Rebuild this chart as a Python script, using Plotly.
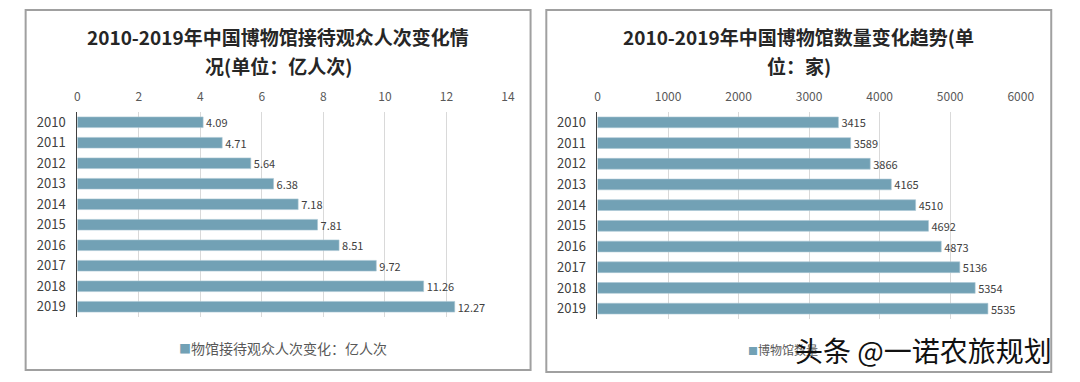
import plotly.graph_objects as go

years = ["2010", "2011", "2012", "2013", "2014", "2015", "2016", "2017", "2018", "2019"]
visitors = [4.09, 4.71, 5.64, 6.38, 7.18, 7.81, 8.51, 9.72, 11.26, 12.27]
visitor_labels = ["4.09", "4.71", "5.64", "6.38", "7.18", "7.81", "8.51", "9.72", "11.26", "12.27"]
museums = [3415, 3589, 3866, 4165, 4510, 4692, 4873, 5136, 5354, 5535]

left_title = ["2010-2019年中国博物馆接待观众人次变化情", "况(单位：亿人次)"]
right_title = ["2010-2019年中国博物馆数量变化趋势(单", "位：家)"]
left_legend = "物馆接待观众人次变化：亿人次"
right_legend = "博物馆数量"
watermark = "头条 @一诺农旅规划"

W, H = 1080, 382
BAR = "#72A1B5"
FONT = "Noto Sans CJK SC"

def px(x):
    return x / W

def py(y):
    return 1 - y / H

fig = go.Figure()
fig.add_trace(go.Bar(
    x=visitors, y=years, orientation="h", name=left_legend,
    marker=dict(color=BAR, line=dict(color="#A9C6D3", width=0.6)),
    text=visitor_labels, textposition="outside", cliponaxis=False,
    constraintext="none",
    textfont=dict(size=11, color="#404040", family=FONT),
    xaxis="x", yaxis="y", showlegend=False, hoverinfo="skip"))
fig.add_trace(go.Bar(
    x=museums, y=years, orientation="h", name=right_legend,
    marker=dict(color=BAR, line=dict(color="#A9C6D3", width=0.6)),
    text=[str(v) for v in museums], textposition="outside", cliponaxis=False,
    constraintext="none",
    textfont=dict(size=11, color="#404040", family=FONT),
    xaxis="x2", yaxis="y2", showlegend=False, hoverinfo="skip"))

xcommon = dict(side="top", showgrid=True, gridcolor="#D9D9D9", gridwidth=1,
               zeroline=False, showline=False, ticks="", ticklabelstandoff=8,
               tickfont=dict(size=12, color="#595959", family=FONT))
ycommon = dict(type="category", autorange="reversed", showgrid=False,
               showline=True, linecolor="#404040", linewidth=1, ticks="",
               ticklabelstandoff=8,
               tickfont=dict(size=13, color="#404040", family=FONT))

fig.update_layout(
    width=W, height=H, margin=dict(l=0, r=0, t=0, b=0),
    paper_bgcolor="white", plot_bgcolor="white",
    bargap=0.48, font=dict(family=FONT), showlegend=False,
    xaxis=dict(domain=[px(75.5), px(513)], range=[0, 14], dtick=2,
               anchor="y", **xcommon),
    yaxis=dict(domain=[py(317), py(112)], anchor="x", **ycommon),
    xaxis2=dict(domain=[px(604), px(1034)], range=[0, 6000], dtick=1000,
                anchor="y2", **xcommon),
    yaxis2=dict(domain=[py(319), py(112)], anchor="x2", **ycommon),
)

shapes = []
for (x0, y0, x1, y1) in [(23, 10, 536, 370), (552, 10, 1065, 372)]:
    shapes.append(dict(type="rect", xref="paper", yref="paper",
                       x0=px(x0), x1=px(x1), y0=py(y1), y1=py(y0),
                       line=dict(color="#A0A0A0", width=2), layer="below"))
fig.update_layout(shapes=shapes)

ann = []
for cx, lines in [(279.5, left_title), (808.5, right_title)]:
    for yy, t in zip([37, 65], lines):
        ann.append(dict(text="<b>" + t + "</b>", x=px(cx), y=py(yy), xref="paper", yref="paper",
                        xanchor="center", yanchor="middle", showarrow=False,
                        font=dict(size=19, color="#262626", family=FONT)))
# legends (colored square + series name)
ann.append(dict(text='<span style="color:%s;font-size:12px">■</span>%s' % (BAR, left_legend),
                x=px(284), y=py(348), xref="paper", yref="paper",
                xanchor="center", yanchor="middle", showarrow=False,
                font=dict(size=14, color="#595959", family=FONT)))
ann.append(dict(text='<span style="color:%s;font-size:10px">■</span>%s' % (BAR, right_legend),
                x=px(755), y=py(349), xref="paper", yref="paper",
                xanchor="left", yanchor="middle", showarrow=False,
                font=dict(size=12, color="#595959", family=FONT)))
ann.append(dict(text=watermark, x=px(1068), y=py(350), xref="paper", yref="paper",
                xanchor="right", yanchor="middle", showarrow=False,
                font=dict(size=28, color="#111111", family=FONT)))
fig.update_layout(annotations=ann)

fig.write_html("out.html", config={"displayModeBar": False},
               post_script="document.body.style.margin='0';document.body.style.overflow='hidden';")
